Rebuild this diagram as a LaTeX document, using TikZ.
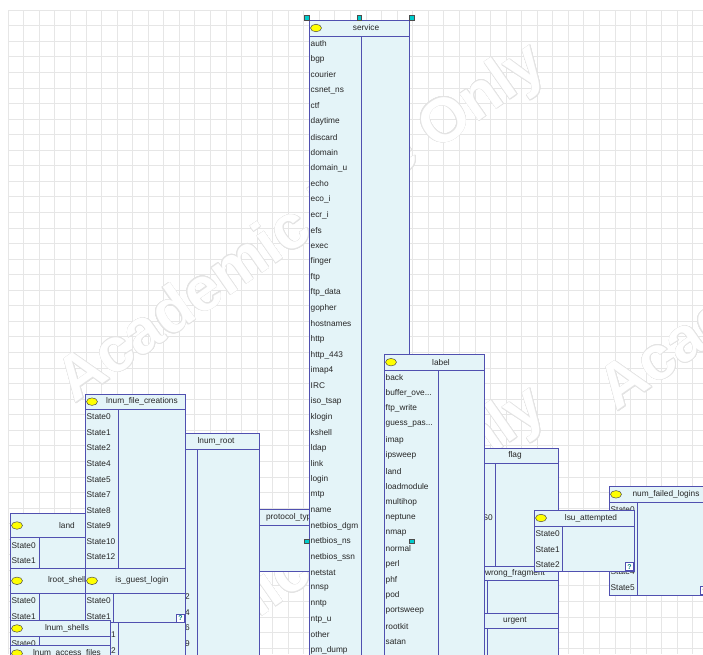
\documentclass[tikz,border=0pt]{standalone}
\usepackage{fontspec}
\setmainfont{Liberation Sans}
\usepackage[copies]{contour}
\usetikzlibrary{shapes.geometric}

\definecolor{netfill}{RGB}{228,244,248}
\definecolor{netblue}{RGB}{80,80,176}
\definecolor{gridgray}{RGB}{230,230,230}
\definecolor{bulbyellow}{RGB}{255,255,0}
\definecolor{handlecyan}{RGB}{0,204,204}

\contourlength{0.5pt}
\contournumber{16}

\tikzset{
  netbox/.style={draw=netblue, fill=netfill, line width=1pt, minimum width=100,
    inner sep=0, outer sep=0, anchor=north west},
  netline/.style={draw=netblue, line width=1pt},
  bulb/.style={ellipse, draw=black!70, fill=bulbyellow, minimum width=11,
    minimum height=7.5, inner sep=0, line width=0.5pt},
  nettitle/.style={font=\fontsize{8.3}{10}\selectfont, text=black!85, inner sep=0},
  netstate/.style={font=\fontsize{8.3}{10}\selectfont, text=black!85, inner sep=0, anchor=west},
  qbox/.style={draw=netblue, fill=white, text=teal, font=\fontsize{7}{7}\selectfont\bfseries,
    minimum size=8, inner sep=0, anchor=south east, line width=0.8pt},
  handle/.style={draw=black!70, fill=handlecyan, minimum size=4.5, inner sep=0, line width=0.4pt},
  gridline/.style={draw=gridgray, line width=0.6pt},
  watermark/.style={rotate=35, text=white, font=\fontsize{62}{62}\selectfont\bfseries, inner sep=0}
}

% truncated state names end in three dots
\newcommand{\trunc}{...}

% #1 name, #2 title, #3 left, #4 top, #5 bottom, #6 title bar height, #7 column split, #8 states
\newcommand{\netnode}[8]{
  \node[netbox, minimum height={#5-#4}] (#1) at (#3,#4) {};
  \draw[netline] (#1.north west) ++(0,#6) -- ++(100,0);
  \draw[netline] (#1.north west) ++(#7,#6) -- ++(0,{#5-#4-#6});
  \path (#1.north west) ++(7,{#6/2}) node[bulb] (#1-bulb) {};
  \path (#1.north west) ++(57,{#6/2}) node[nettitle] (#1-title) {#2};
  \foreach \s [count=\i from 0] in {#8}
    \path (#1.north west) ++(1.5,{#6+7.7+\i*15.56}) node[netstate] (#1-s\i) {\s};
}

\begin{document}
\begin{tikzpicture}[x=1pt,y=-1pt]

  \useasboundingbox (0,0) rectangle (703,654);
  \clip (0,0) rectangle (703,654);
  \fill[white] (0,0) rectangle (703,654);

  % --- Grid ---
  \foreach \gx in {0,...,45}
    \draw[gridline] ({8+\gx*15.56},10) -- ({8+\gx*15.56},654);
  \foreach \gy in {0,...,41}
    \draw[gridline] (8,{10+\gy*15.56}) -- (703,{10+\gy*15.56});

  % --- Watermark ---
  \node[watermark] (wm1) at (303,225) {\contour{gray!22}{Academic Use Only}};
  \node[watermark] (wm2) at (845,233) {\contour{gray!22}{Academic Use Only}};
  \node[watermark] (wm3) at (303,568) {\contour{gray!22}{Academic Use Only}};

  % --- Left cluster ---
  \netnode{proto}{protocol\_type}{234}{509.3}{571}{16}{24}{}
  \netnode{lroot}{lnum\_root}{159}{433.3}{700}{15.7}{38.7}{}
  \node[netstate, anchor=east] (lroot-f2) at (190,596.7) {2};
  \node[netstate, anchor=east] (lroot-f4) at (190,612.3) {4};
  \node[netstate, anchor=east] (lroot-f6) at (190,627.8) {6};
  \node[netstate, anchor=east] (lroot-f9) at (190,643.4) {9};

  \netnode{land}{land}{10}{513.3}{568.3}{24.4}{29.3}{State0,State1}
  \netnode{lrootshell}{lroot\_shell}{10}{568.3}{620.7}{25}{29.3}{State0,State1}

  \netnode{lfc}{lnum\_file\_creations}{85}{394}{700}{15.3}{33.3}%
    {State0,State1,State2,State4,State5,State7,State8,State9,State10,State12}
  \node[netstate, anchor=east] (lfc-f1) at (116,634.6) {1};
  \node[netstate, anchor=east] (lfc-f2) at (116,650.1) {2};

  \netnode{guest}{is\_guest\_login}{85}{568.3}{622.7}{25}{28.3}{State0,State1}
  \node[qbox] (guest-q) at (guest.south east) {?};

  \netnode{lshells}{lnum\_shells}{10}{620.7}{680}{15.5}{29}{State0}
  \netnode{laccess}{lnum\_access\_files}{10}{645.7}{700}{15.5}{29}{}

  % --- Right cluster ---
  \netnode{numfail}{num\_failed\_logins}{609}{486.7}{595}{15.3}{28.7}%
    {State0,State1,State2,State3,State4,State5}
  \node[qbox] (numfail-q) at (numfail.south east) {?};

  \netnode{flag}{flag}{458}{448}{640}{15.3}{37.6}%
    {OTH,REJ,RSTO,RSTOS0,RSTR,S0,S1,S2,S3,SF,SH}
  \netnode{wrongfrag}{wrong\_fragment}{458}{566}{614}{14.7}{29.7}{}
  \netnode{urgent}{urgent}{458}{613.3}{700}{15}{29.7}{}

  \netnode{lsu}{lsu\_attempted}{534}{510}{571}{16}{28.7}{State0,State1,State2}
  \node[qbox] (lsu-q) at (lsu.south east) {?};

  % --- Service ---
  \netnode{service}{service}{309}{20}{1062}{16}{52}%
    {auth,bgp,courier,csnet\_ns,ctf,daytime,discard,domain,domain\_u,echo,
     eco\_i,ecr\_i,efs,exec,finger,ftp,ftp\_data,gopher,hostnames,http,
     http\_443,imap4,IRC,iso\_tsap,klogin,kshell,ldap,link,login,mtp,
     name,netbios\_dgm,netbios\_ns,netbios\_ssn,netstat,nnsp,nntp,ntp\_u,other,pm\_dump}

  % --- Label ---
  \netnode{label}{label}{384}{354.3}{700}{15.7}{54}%
    {back,buffer\_ove\trunc,ftp\_write,guess\_pas\trunc,imap,ipsweep,land,loadmodule,
     multihop,neptune,nmap,normal,perl,phf,pod,portsweep,rootkit,satan}

  % --- Selection handles ---
  \node[handle, anchor=south east] (h-nw) at (service.north west) {};
  \node[handle, anchor=south] (h-n) at (service.north) {};
  \node[handle, anchor=south west] (h-ne) at (service.north east) {};
  \node[handle, anchor=east] (h-w) at (service.west) {};
  \node[handle, anchor=west] (h-e) at (service.east) {};

\end{tikzpicture}
\end{document}
